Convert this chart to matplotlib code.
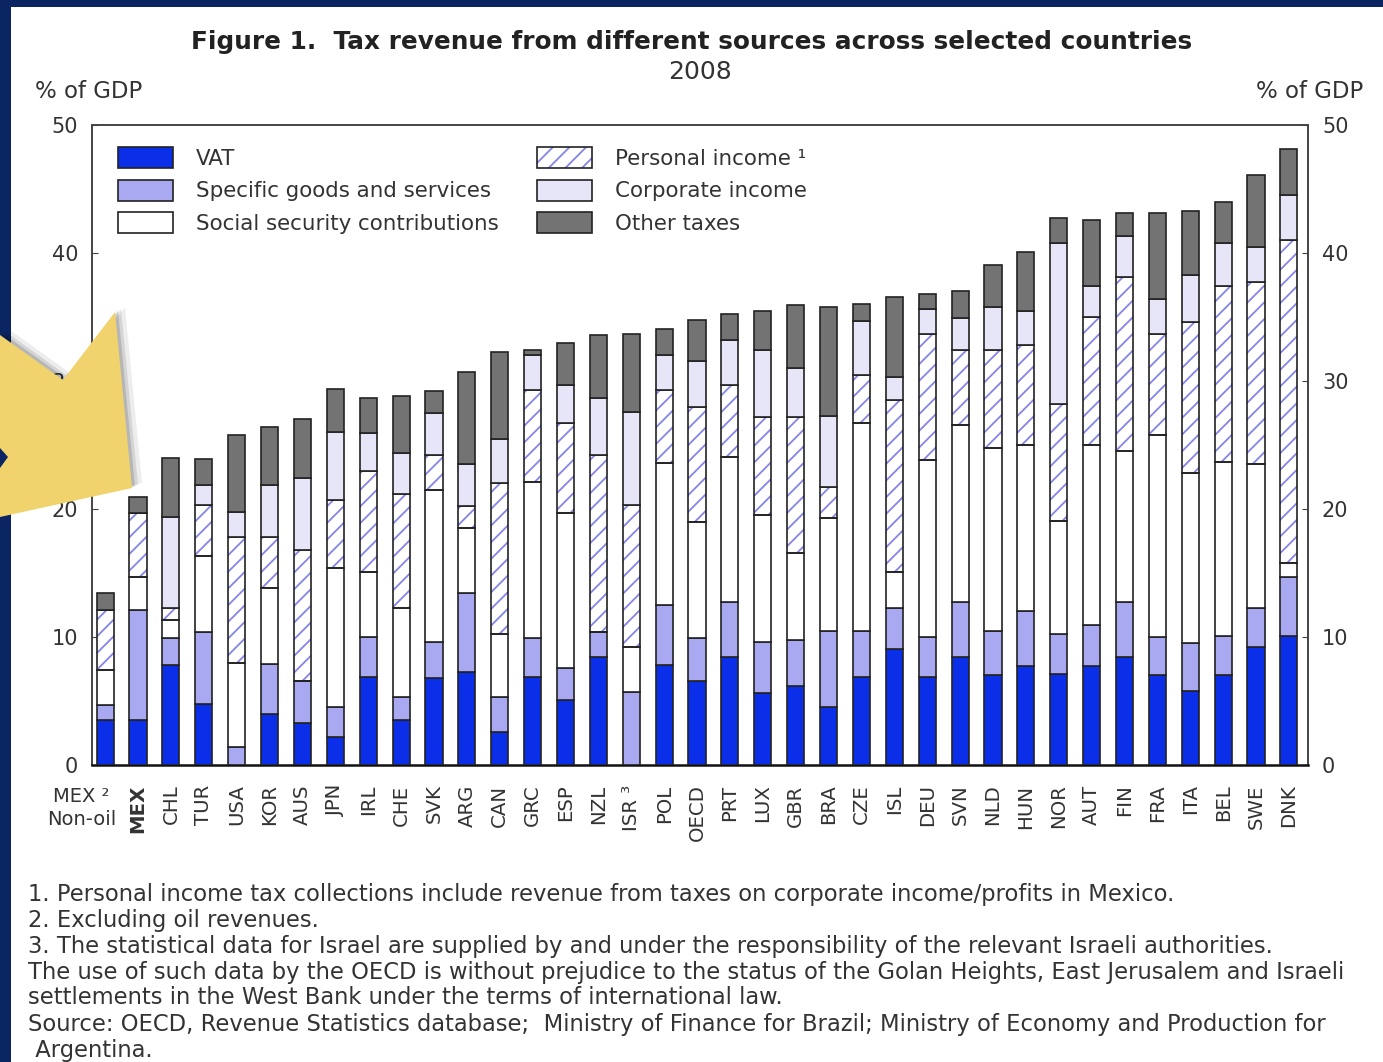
import numpy as np
import matplotlib
matplotlib.use('Agg')
import matplotlib.pyplot as plt
from matplotlib.patches import Patch, Polygon, Rectangle
from matplotlib.legend_handler import HandlerTuple
from matplotlib.transforms import Affine2D

# datos (% del PIB, 2008)
paises = ['MEX', 'MEX', 'CHL', 'TUR', 'USA', 'KOR', 'AUS', 'JPN', 'IRL', 'CHE',
          'SVK', 'ARG', 'CAN', 'GRC', 'ESP', 'NZL', 'ISR \u00b3', 'POL', 'OECD',
          'PRT', 'LUX', 'GBR', 'BRA', 'CZE', 'ISL', 'DEU', 'SVN', 'NLD', 'HUN',
          'NOR', 'AUT', 'FIN', 'FRA', 'ITA', 'BEL', 'SWE', 'DNK']
primera_etiqueta = 'MEX \u00b2\nNon-oil'

vat      = [3.5, 3.5, 7.8, 4.8, 0.0, 4.0, 3.3, 2.2, 6.9, 3.5, 6.8, 7.3, 2.6, 6.9, 5.1, 8.4, 0.0, 7.8, 6.6,
            8.4, 5.6, 6.2, 4.5, 6.9, 9.1, 6.9, 8.4, 7.0, 7.7, 7.1, 7.7, 8.4, 7.0, 5.8, 7.0, 9.2, 10.1]
especif  = [1.2, 8.6, 2.1, 5.6, 1.4, 3.9, 3.3, 2.3, 3.1, 1.8, 2.8, 6.1, 2.7, 3.0, 2.5, 2.0, 5.7, 4.7, 3.3,
            4.3, 4.0, 3.6, 6.0, 3.6, 3.2, 3.1, 4.3, 3.5, 4.3, 3.1, 3.2, 4.3, 3.0, 3.7, 3.1, 3.1, 4.6]
social   = [2.7, 2.6, 1.4, 5.9, 6.6, 5.9, 0.0, 10.9, 5.1, 7.0, 11.9, 5.1, 4.9, 12.2, 12.1, 0.0, 3.5, 11.1, 9.1,
            11.4, 9.9, 6.8, 8.8, 16.2, 2.8, 13.8, 13.9, 14.3, 13.0, 8.9, 14.1, 11.8, 15.8, 13.3, 13.6, 11.2, 1.1]
personal = [4.7, 5.0, 1.0, 4.0, 9.8, 4.0, 10.2, 5.3, 7.9, 8.9, 2.7, 1.7, 11.8, 7.2, 7.0, 13.8, 11.1, 5.7, 9.0,
            5.6, 7.7, 10.6, 2.4, 3.8, 13.4, 9.9, 5.8, 7.6, 7.8, 9.1, 10.0, 13.6, 7.9, 11.8, 13.7, 14.2, 25.2]
corporat = [0.0, 0.0, 7.1, 1.6, 2.0, 4.1, 5.6, 5.3, 2.9, 3.2, 3.3, 3.3, 3.5, 2.7, 3.0, 4.5, 7.3, 2.7, 3.6,
            3.5, 5.2, 3.8, 5.6, 4.2, 1.8, 1.9, 2.5, 3.4, 2.7, 12.6, 2.4, 3.2, 2.7, 3.7, 3.4, 2.8, 3.5]
otros    = [1.3, 1.2, 4.6, 2.0, 6.0, 4.5, 4.6, 3.4, 2.8, 4.4, 1.7, 7.2, 6.8, 0.4, 3.3, 4.9, 6.1, 2.1, 3.2,
            2.0, 3.1, 4.9, 8.5, 1.3, 6.3, 1.2, 2.1, 3.3, 4.6, 1.9, 5.2, 1.8, 6.7, 5.0, 3.2, 5.6, 3.6]

nombres = ['VAT', 'Specific goods and services', 'Social security contributions',
           'Personal income \u00b9', 'Corporate income', 'Other taxes']
colores = ['#0b2fe8', '#a9a9f2', '#ffffff', '#ffffff', '#e6e6f8', '#737373']

notas = ['1. Personal income tax collections include revenue from taxes on corporate income/profits in Mexico.',
         '2. Excluding oil revenues.',
         '3. The statistical data for Israel are supplied by and under the responsibility of the relevant Israeli authorities.',
         'The use of such data by the OECD is without prejudice to the status of the Golan Heights, East Jerusalem and Israeli',
         'settlements in the West Bank under the terms of international law.',
         'Source: OECD, Revenue Statistics database;  Ministry of Finance for Brazil; Ministry of Economy and Production for',
         ' Argentina.']

plt.rcParams['font.family'] = ['DejaVu Sans']
plt.rcParams['hatch.linewidth'] = 1.3
gris = '#333333'

W, H = 1383, 1062
fig = plt.figure(figsize=(W / 100, H / 100), dpi=100, facecolor='#0b2562')
px = Affine2D().scale(1 / W, -1 / H).translate(0, 1) + fig.transFigure

# fondo blanco (marco azul arriba e izquierda)
fig.patches.append(Rectangle((11, 7), W, H, transform=px, facecolor='white',
                             edgecolor='none', zorder=-5))

ax = fig.add_axes([92 / W, 1 - 765 / H, (1308 - 92) / W, (765 - 125) / H])

x = np.arange(len(paises))
ancho = 0.52
base = np.zeros(len(paises))
series = [vat, especif, social, personal, corporat, otros]
for i, vals in enumerate(series):
    vals = np.array(vals)
    if i == 3:
        ax.bar(x, vals, ancho, bottom=base, color='white', edgecolor='#8484ea',
               hatch='//', linewidth=0, zorder=2)
        ax.bar(x, vals, ancho, bottom=base, fill=False, edgecolor='#222222',
               linewidth=1.2, zorder=3)
    else:
        ax.bar(x, vals, ancho, bottom=base, color=colores[i], edgecolor='#222222',
               linewidth=1.2, zorder=3)
    base = base + vals

# leyenda
manejadores = []
for i in range(6):
    if i == 3:
        manejadores.append((Patch(facecolor='white', edgecolor='#8484ea', hatch='//', linewidth=0),
                            Patch(fill=False, edgecolor='#222222', linewidth=1.2)))
    else:
        manejadores.append(Patch(facecolor=colores[i], edgecolor='#222222', linewidth=1.2))
ax.legend(manejadores, nombres, ncol=2, loc='upper left', bbox_to_anchor=(118, 147),
          bbox_transform=px, frameon=False, fontsize=15.4, labelcolor=gris,
          handlelength=2.55, handleheight=1.15, labelspacing=0.5, handletextpad=1.1,
          columnspacing=1.8, borderpad=0, borderaxespad=0,
          handler_map={tuple: HandlerTuple(ndivide=1, pad=0)})

ax.set_ylim(0, 50)
ax.set_xlim(-0.4, 36.58)
ax.set_yticks(range(0, 51, 10))
ax.tick_params(axis='y', direction='in', length=4, labelsize=15, labelcolor=gris,
               pad=10, left=True, right=True, labelleft=True, labelright=True, color='#444444')
ax.set_xticks(x)
ax.set_xticklabels([''] + paises[1:], rotation=90, fontsize=14.2, color=gris)
ax.tick_params(axis='x', length=0, pad=14)
ax.get_xticklabels()[1].set_fontweight('bold')
ax.annotate(primera_etiqueta, xy=(0, 0), xycoords='data', xytext=(-17, -16),
            textcoords='offset points', ha='center', va='top', fontsize=14,
            color=gris, linespacing=1.25)

for lado in ['left', 'right', 'top']:
    ax.spines[lado].set_color('#444444')
    ax.spines[lado].set_linewidth(1.4)
ax.spines['bottom'].set_color('#111111')
ax.spines['bottom'].set_linewidth(1.8)

# titulos
fig.text(692, 42, 'Figure 1.  Tax revenue from different sources across selected countries',
         transform=px, ha='center', va='center', fontsize=17.8, fontweight='bold', color='#222222')
fig.text(700, 72, '2008', transform=px, ha='center', va='center', fontsize=18, color=gris)
fig.text(35, 92, '% of GDP', transform=px, ha='left', va='center', fontsize=16.5, color=gris)
fig.text(1363, 92, '% of GDP', transform=px, ha='right', va='center', fontsize=16.5, color=gris)

# notas al pie
for k, linea in enumerate(notas):
    fig.text(28, 894 + 26 * k, linea, transform=px, ha='left', va='center',
             fontsize=16.3, color=gris)

# flecha amarilla decorativa
forma = [(0, 335), (63, 380), (115, 312), (132, 488), (0, 517), (0, 468), (8, 457), (0, 448)]
for d, a in [(10, 0.07), (6, 0.1), (3, 0.14)]:
    sombra = [(p[0] + d, p[1] - d * 0.5) for p in forma]
    fig.patches.append(Polygon(sombra, closed=True, transform=px, facecolor='black',
                               edgecolor='none', alpha=a, zorder=9))
fig.patches.append(Polygon(forma, closed=True, transform=px, facecolor='#f0d36c',
                           edgecolor='none', zorder=10))

fig.savefig('out.png', dpi=100, facecolor=fig.get_facecolor())
